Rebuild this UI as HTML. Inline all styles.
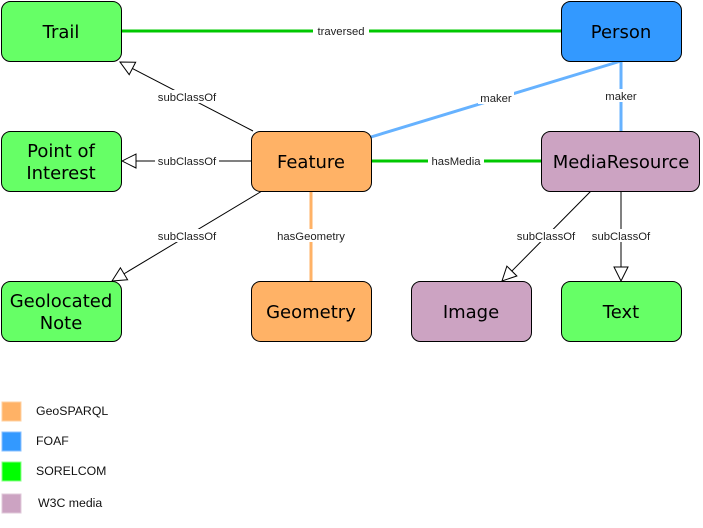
<!DOCTYPE html>
<html><head><meta charset="utf-8"><style>
html,body{margin:0;padding:0;background:#fff;width:703px;height:528px;overflow:hidden}
.n{font-family:"DejaVu Sans","Liberation Sans",sans-serif;font-size:18px;text-anchor:middle;fill:#000}
.l{font-family:"Liberation Sans",sans-serif;font-size:11.3px;text-anchor:middle;fill:#222}
.g{font-family:"Liberation Sans",sans-serif;font-size:12.3px;fill:#111}
</style></head><body>
<svg width="703" height="528" xmlns="http://www.w3.org/2000/svg">
<defs>
<marker id="a" markerWidth="16" markerHeight="16" refX="15" refY="8" orient="auto" markerUnits="userSpaceOnUse">
<path d="M1,1 L15,8 L1,15 Z" fill="#fff" stroke="#000" stroke-width="1"/>
</marker>
</defs>
<line x1="121" y1="31" x2="561" y2="31" stroke="#00c800" stroke-width="3"/>
<line x1="371" y1="161" x2="541" y2="161" stroke="#00c800" stroke-width="3"/>
<line x1="621" y1="61" x2="371" y2="137" stroke="#66b2ff" stroke-width="3"/>
<line x1="621" y1="61" x2="621" y2="131" stroke="#66b2ff" stroke-width="3"/>
<line x1="311" y1="191" x2="311" y2="281" stroke="#ffb266" stroke-width="3"/>
<line x1="253" y1="131" x2="120" y2="62" stroke="#000" stroke-width="1" marker-end="url(#a)"/>
<line x1="251" y1="161" x2="122" y2="161" stroke="#000" stroke-width="1" marker-end="url(#a)"/>
<line x1="262" y1="191" x2="112" y2="281" stroke="#000" stroke-width="1" marker-end="url(#a)"/>
<line x1="591" y1="191" x2="502" y2="281" stroke="#000" stroke-width="1" marker-end="url(#a)"/>
<line x1="621" y1="191" x2="621" y2="281" stroke="#000" stroke-width="1" marker-end="url(#a)"/>
<g>
<rect x="313" y="25" width="56" height="13" fill="#fff"/><text class="l" x="341" y="35">traversed</text>
<rect x="428" y="155" width="56" height="13" fill="#fff"/><text class="l" x="456" y="165">hasMedia</text>
<rect x="478" y="91" width="36" height="13" fill="#fff"/><text class="l" x="496" y="102">maker</text>
<rect x="603" y="89" width="36" height="13" fill="#fff"/><text class="l" x="621" y="100">maker</text>
<rect x="155" y="90" width="64" height="13" fill="#fff"/><text class="l" x="187" y="101">subClassOf</text>
<rect x="155" y="154" width="64" height="13" fill="#fff"/><text class="l" x="187" y="165">subClassOf</text>
<rect x="155" y="229" width="64" height="13" fill="#fff"/><text class="l" x="187" y="240">subClassOf</text>
<rect x="275" y="229" width="72" height="13" fill="#fff"/><text class="l" x="311" y="240">hasGeometry</text>
<rect x="514" y="229" width="64" height="13" fill="#fff"/><text class="l" x="546" y="240">subClassOf</text>
<rect x="589" y="229" width="64" height="13" fill="#fff"/><text class="l" x="621" y="240">subClassOf</text>
</g>
<g stroke="#000" stroke-width="1">
<rect x="1.5" y="1.5" width="120" height="60" rx="9" fill="#66ff66"/>
<rect x="1.5" y="131.5" width="120" height="60" rx="9" fill="#66ff66"/>
<rect x="1.5" y="281.5" width="120" height="60" rx="9" fill="#66ff66"/>
<rect x="251.5" y="131.5" width="120" height="60" rx="9" fill="#ffb266"/>
<rect x="251.5" y="281.5" width="120" height="60" rx="9" fill="#ffb266"/>
<rect x="561.5" y="1.5" width="120" height="60" rx="9" fill="#3399ff"/>
<rect x="541.5" y="131.5" width="158" height="60" rx="9" fill="#cca3c2"/>
<rect x="411.5" y="281.5" width="120" height="60" rx="9" fill="#cca3c2"/>
<rect x="561.5" y="281.5" width="120" height="60" rx="9" fill="#66ff66"/>
</g>
<text class="n" x="61" y="38">Trail</text>
<text class="n" x="61" y="157">Point of</text>
<text class="n" x="61" y="179">Interest</text>
<text class="n" x="61" y="307">Geolocated</text>
<text class="n" x="61" y="329">Note</text>
<text class="n" x="311" y="168">Feature</text>
<text class="n" x="311" y="318">Geometry</text>
<text class="n" x="621" y="38">Person</text>
<text class="n" x="621" y="168">MediaResource</text>
<text class="n" x="471" y="318">Image</text>
<text class="n" x="621" y="318">Text</text>
<rect x="2" y="402" width="19" height="19" fill="#ffb266" stroke="#ffd0a0"/>
<rect x="2" y="432" width="19" height="19" fill="#3399ff" stroke="#88c0ff"/>
<rect x="2" y="462" width="19" height="19" fill="#00ff00" stroke="#88ff88"/>
<rect x="2" y="494" width="19" height="19" fill="#cca3c2" stroke="#e0c8da"/>
<text class="g" x="36" y="415">GeoSPARQL</text>
<text class="g" x="36" y="445">FOAF</text>
<text class="g" x="36" y="475">SORELCOM</text>
<text class="g" x="38" y="507">W3C media</text>
</svg>
</body></html>
